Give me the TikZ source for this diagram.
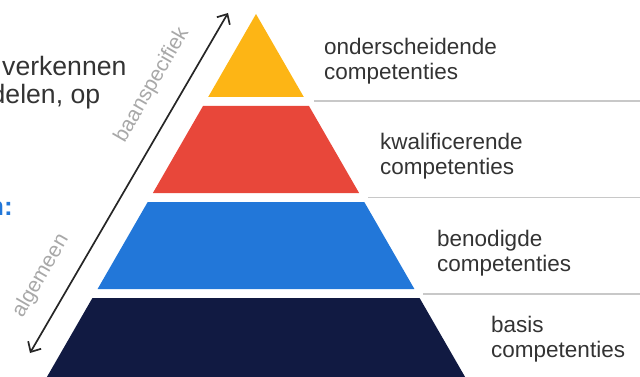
\documentclass[tikz,border=0pt]{standalone}
\usepackage{fontspec}
\setmainfont{Liberation Sans}
\usetikzlibrary{arrows.meta}

\definecolor{pyrYellow}{HTML}{FDB515}
\definecolor{pyrRed}{HTML}{E8473A}
\definecolor{pyrBlue}{HTML}{2277D9}
\definecolor{pyrNavy}{HTML}{111A42}
\definecolor{sepGray}{HTML}{C8C8C8}
\definecolor{txtGray}{HTML}{333333}
\definecolor{axisGray}{HTML}{A8A8A8}

\begin{document}
\begin{tikzpicture}[x=1pt, y=-1pt,
  label/.style={anchor=west, align=left, text=txtGray, font=\fontsize{22.5}{24.5}\selectfont, inner sep=0pt},
  axis/.style={text=axisGray, font=\fontsize{21}{24}\selectfont, rotate=60, inner sep=0pt},
  sep/.style={draw=sepGray, line width=1.4pt},
  side/.style={anchor=west, text=txtGray, font=\fontsize{26.6}{30}\selectfont, inner sep=0pt}]

  \useasboundingbox (0,0) rectangle (640,377);
  \clip (0,0) rectangle (640,377);

  % Pyramid layers
  \fill[pyrYellow] (256,14) -- (303.8,97) -- (208.2,97) -- cycle;
  \fill[pyrRed] (203,106) -- (309,106) -- (359.1,193) -- (152.9,193) -- cycle;
  \fill[pyrBlue] (147.7,202) -- (364.3,202) -- (414.4,289) -- (97.6,289) -- cycle;
  \fill[pyrNavy] (92.4,298) -- (419.6,298) -- (469.7,385) -- (42.3,385) -- cycle;

  % Separator lines
  \coordinate (S1) at (314,101);
  \coordinate (E1) at (640,101);
  \coordinate (S2) at (368,197.5);
  \coordinate (E2) at (640,197.5);
  \coordinate (S3) at (423,294);
  \coordinate (E3) at (640,294);
  \draw[sep] (S1) -- (E1);
  \draw[sep] (S2) -- (E2);
  \draw[sep] (S3) -- (E3);

  % Labels
  \node[label] (L1) at (324,61) {onderscheidende\\competenties};
  \node[label] (L2) at (380,156) {kwalificerende\\competenties};
  \node[label] (L3) at (437,253) {benodigde\\competenties};
  \node[label] (L4) at (491,339) {basis\\competenties};

  % Side text (cut off)
  \node[side] (T1) at (2,66) {verkennen};
  \node[side] (T2) at (-9.5,97) {delen, op};
  \node[side, text=pyrBlue, font=\fontsize{26}{30}\selectfont\bfseries] (T3) at (-12,208) {n:};

  % Arrow
  \coordinate (low) at (30,353);
  \coordinate (high) at (228,13);
  \draw[{Straight Barb[length=8pt,width=15pt]}-{Straight Barb[length=8pt,width=15pt]}, line width=1.7pt, black!85] (low) -- (high);
  \node[axis] (A1) at (152,85) {baanspecifiek};
  \node[axis] (A2) at (41,276) {algemeen};

\end{tikzpicture}
\end{document}
